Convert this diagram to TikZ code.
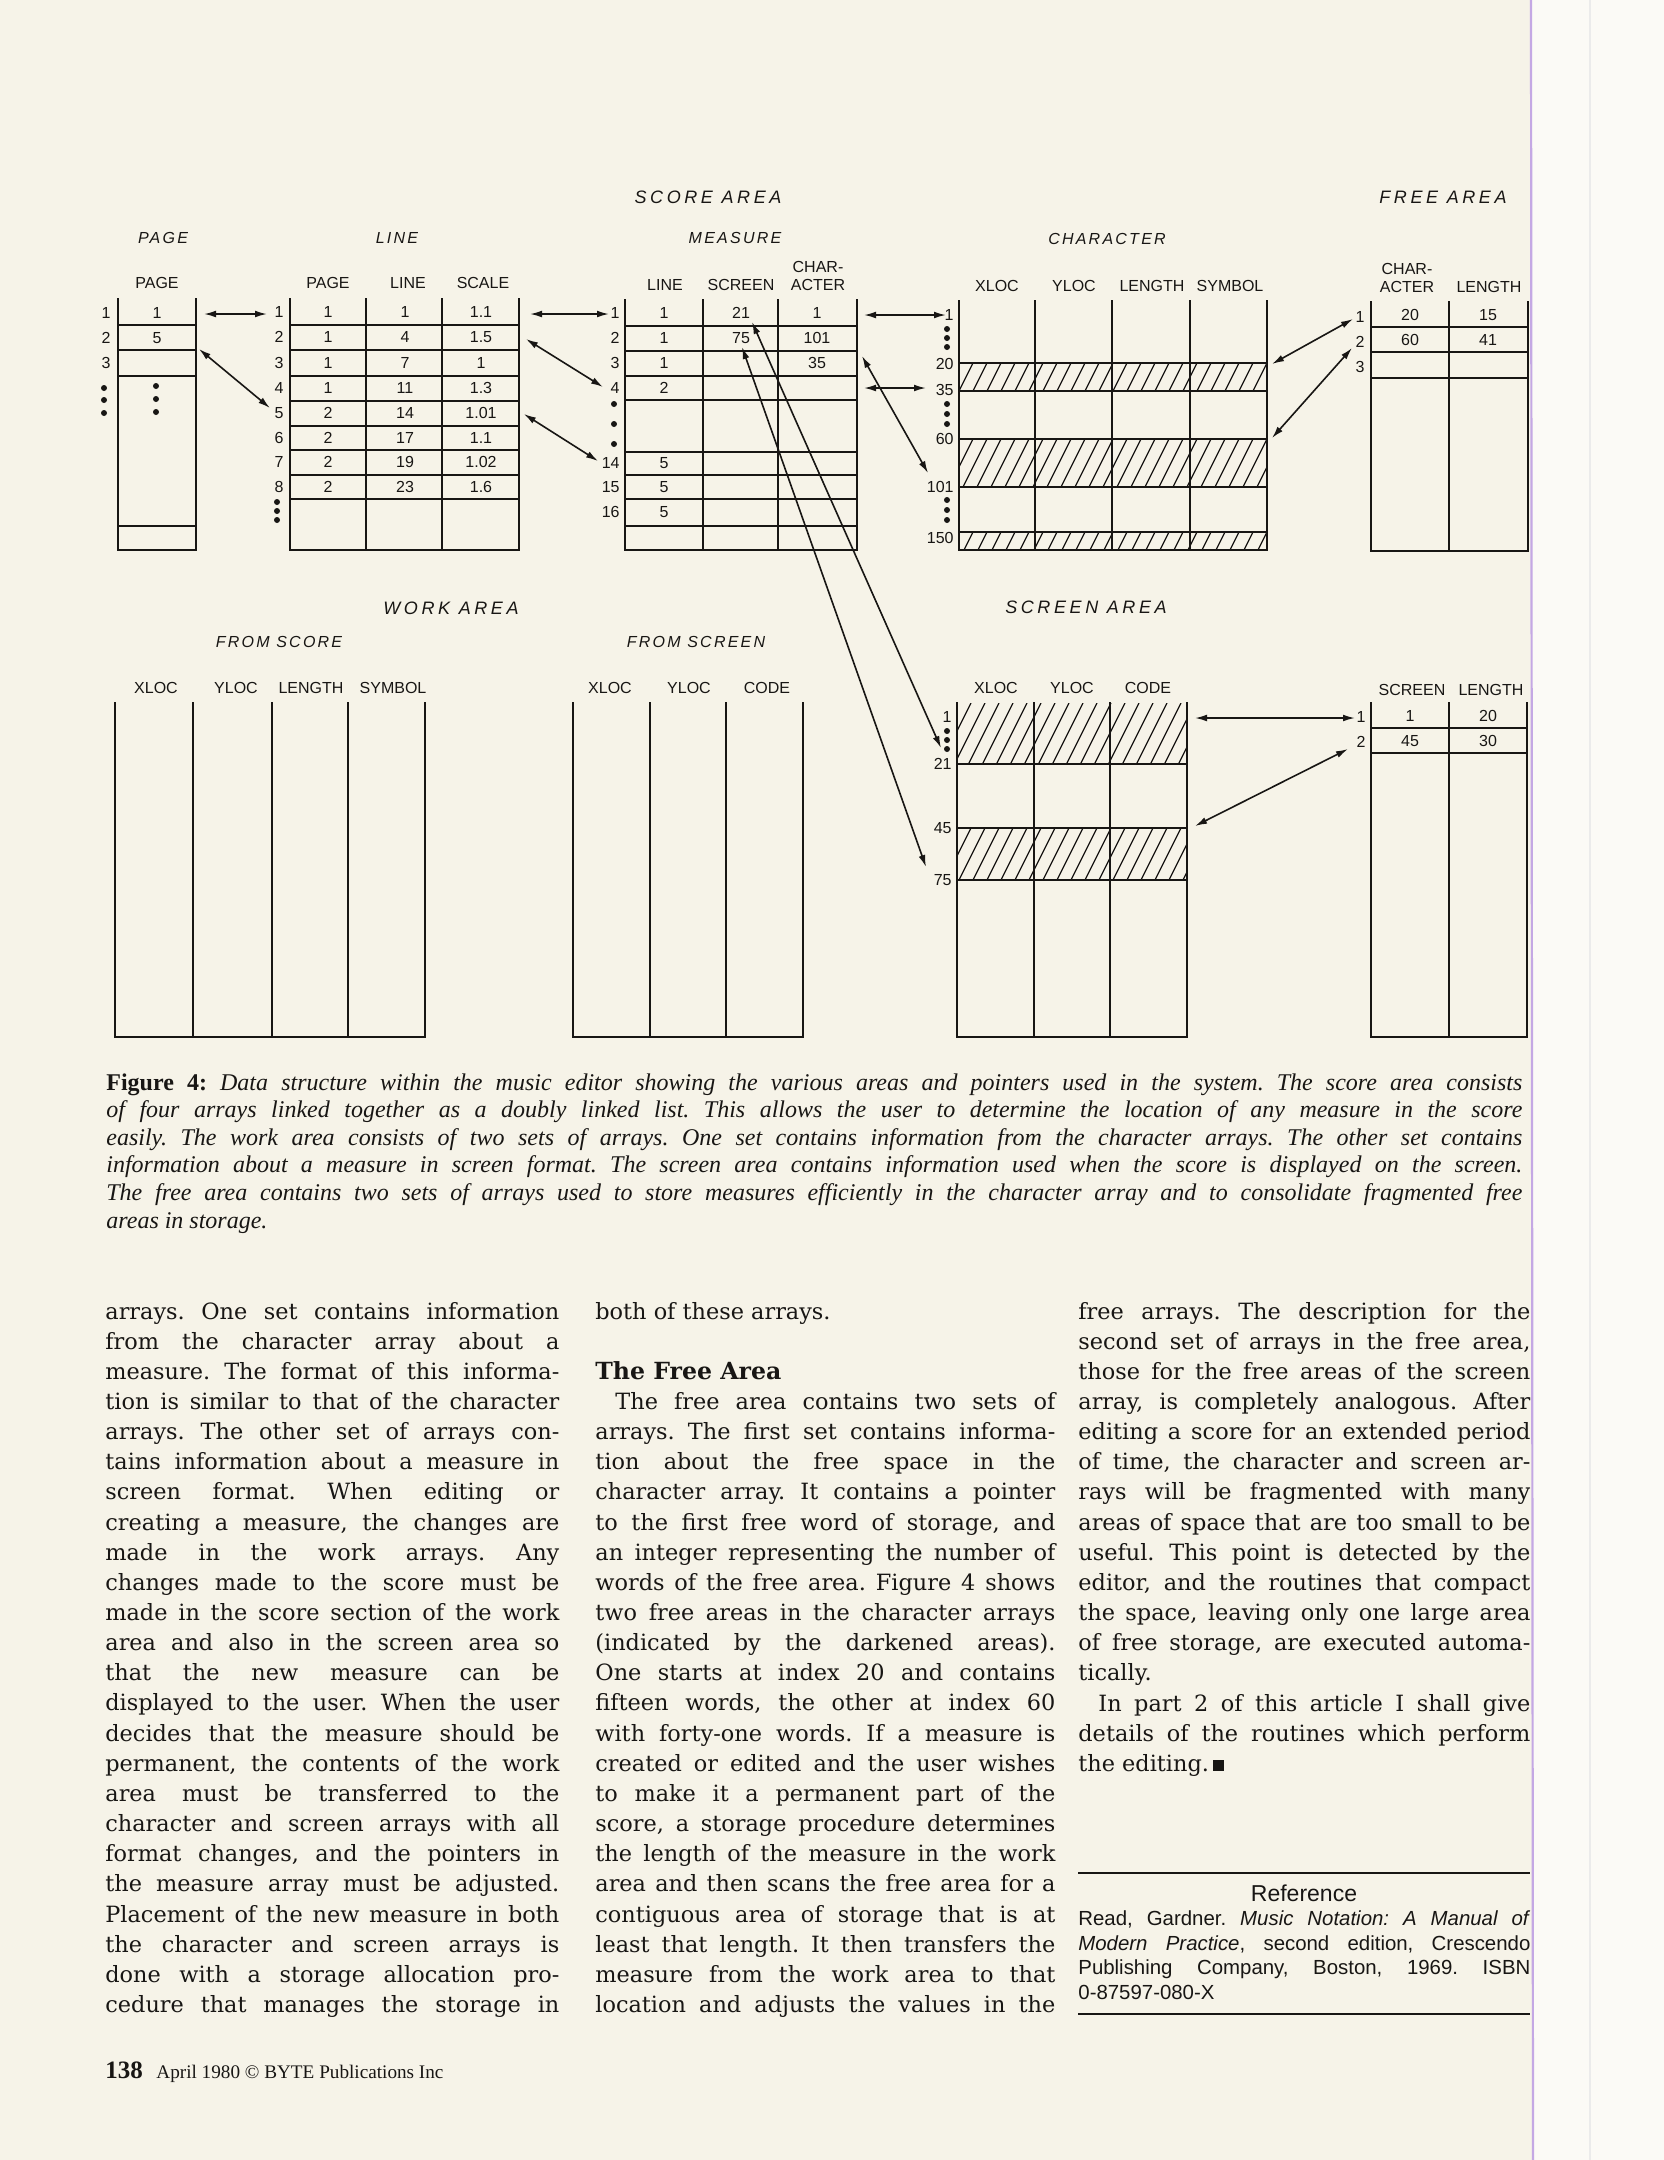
\documentclass[tikz,border=0pt]{standalone}
\usepackage{fontspec}
\usepackage{graphicx}
\usetikzlibrary{arrows.meta}
\setmainfont{DejaVu Serif}
\newfontfamily\dg{Liberation Sans}
\newfontfamily\dga[LetterSpace=20]{Liberation Sans}
\newfontfamily\dgb[LetterSpace=14]{Liberation Sans}
\newfontfamily\capf{Liberation Serif}
\definecolor{paper}{RGB}{246,243,232}
\definecolor{paperb}{RGB}{251,250,246}
\definecolor{ink}{RGB}{24,22,20}
\definecolor{purp}{RGB}{196,168,228}
\AtBeginDocument{\frenchspacing}
\newsavebox\jbox
\newcommand\jl[2]{\sbox\jbox{#2}\ifdim\wd\jbox>#1\relax\resizebox{#1}{\height}{\usebox\jbox}\else\makebox[#1][s]{#2}\fi}
\newcommand\myhatch[4]{%
  \begin{scope}
    \clip (#1,#2) rectangle (#3,#4);
    \pgfmathsetmacro\hh{#4-#2}%
    \pgfmathtruncatemacro\nn{(#3-#1+0.5*\hh)/14+1}%
    \foreach \k in {0,...,\nn}
      \draw[myhl] ({#1-0.5*\hh+\k*14},#4) -- ++({0.5*\hh},{-\hh});
  \end{scope}}
\begin{document}
\begin{tikzpicture}[x=0.5pt,y=-0.5pt,
  mytb/.style={draw=ink,line width=1.15pt,line cap=rect},
  myhl/.style={draw=ink,line width=0.6pt},
  myar/.style={draw=ink,line width=0.8pt,{Latex[length=6pt,width=3.4pt]}-{Latex[length=6pt,width=3.4pt]}},
  myhd/.style={font={\dg\fontsize{8pt}{9.5pt}\selectfont},inner sep=0pt,text=ink},
  mylb/.style={myhd,anchor=east},
  myt1/.style={font={\dga\itshape\fontsize{9pt}{11pt}\selectfont},inner sep=0pt,text=ink},
  myt2/.style={font={\dgb\itshape\fontsize{8pt}{10pt}\selectfont},inner sep=0pt,text=ink},
  mybody/.style={font={\fontsize{11.2pt}{15pt}\selectfont},inner sep=0pt,anchor=base west,text=ink},
  mycap/.style={font={\capf\itshape\fontsize{12pt}{14pt}\selectfont},inner sep=0pt,anchor=base west,text=ink},
  myref/.style={font={\dg\fontsize{10.2pt}{12pt}\selectfont},inner sep=0pt,anchor=base west,text=ink},
  mydot/.style={fill=ink}]
\path[use as bounding box] (0,0) rectangle (1664,2160);
\fill[paper] (0,0) rectangle (1664,2160);
\fill[paperb] (1532,0) rectangle (1664,2160);
\draw[black!8,line width=0.6pt] (1590,0) -- (1590,2160);

% ---------------- titles
\node[myt1,name=tScore] at (708,197) {SCORE AREA};
\node[myt1,name=tFree] at (1443,197) {FREE AREA};
\node[myt2,name=tPage] at (163,238) {PAGE};
\node[myt2,name=tLine] at (397,238) {LINE};
\node[myt2,name=tMeas] at (735,238) {MEASURE};
\node[myt2,name=tChar] at (1107,239) {CHARACTER};
\node[myt1,name=tWork] at (451,608) {WORK AREA};
\node[myt2,name=tFSc] at (279,642) {FROM SCORE};
\node[myt2,name=tFScr] at (696,642) {FROM SCREEN};
\node[myt1,name=tScr] at (1086,607) {SCREEN AREA};

% ---------------- column headers
\foreach \x/\y/\t [count=\i] in {157/283/PAGE, 328/283/PAGE, 408/283/LINE, 483/283/SCALE,
  665/285/LINE, 741/285/SCREEN, 818/267/CHAR-, 818/285/ACTER,
  997/286/XLOC, 1074/286/YLOC, 1152/286/LENGTH, 1230/286/SYMBOL,
  1407/269/CHAR-, 1407/287/ACTER, 1489/287/LENGTH,
  156/688/XLOC, 236/688/YLOC, 311/688/LENGTH, 393/688/SYMBOL,
  610/688/XLOC, 689/688/YLOC, 767/688/CODE,
  996/688/XLOC, 1072/688/YLOC, 1148/688/CODE,
  1412/690/SCREEN, 1491/690/LENGTH}
  \node[myhd,name=h\i] at (\x,\y) {\t};

% ---------------- hatching
\myhatch{959}{363}{1267}{391}
\myhatch{959}{439}{1267}{487}
\myhatch{959}{532}{1267}{550}
\myhatch{957}{703}{1187}{764}
\myhatch{957}{828}{1187}{880}

% ---------------- tables
% PAGE
\foreach \x in {118,196} \draw[mytb] (\x,299) -- (\x,550);
\foreach \y in {325,350,376,526,550} \draw[mytb] (118,\y) -- (196,\y);
% LINE
\foreach \x in {290,366,442,519} \draw[mytb] (\x,299) -- (\x,550);
\foreach \y in {325,350,376,401,426,450,475,499,550} \draw[mytb] (290,\y) -- (519,\y);
% MEASURE
\foreach \x in {625,703,778,857} \draw[mytb] (\x,300) -- (\x,550);
\foreach \y in {326,351,376,400,452,475,499,526,550} \draw[mytb] (625,\y) -- (857,\y);
% CHARACTER
\foreach \x in {959,1035,1112,1190,1267} \draw[mytb] (\x,301) -- (\x,550);
\foreach \y in {363,391,439,487,532,550} \draw[mytb] (959,\y) -- (1267,\y);
% FREE
\foreach \x in {1371,1449,1528} \draw[mytb] (\x,302) -- (\x,551);
\foreach \y in {327,352,378,551} \draw[mytb] (1371,\y) -- (1528,\y);
% WORK: FROM SCORE
\foreach \x in {115,193,272,348,425} \draw[mytb] (\x,703) -- (\x,1037);
\draw[mytb] (115,1037) -- (425,1037);
% WORK: FROM SCREEN
\foreach \x in {573,650,726,803} \draw[mytb] (\x,703) -- (\x,1037);
\draw[mytb] (573,1037) -- (803,1037);
% SCREEN AREA
\foreach \x in {957,1034,1110,1187} \draw[mytb] (\x,703) -- (\x,1037);
\foreach \y in {764,828,880,1037} \draw[mytb] (957,\y) -- (1187,\y);
% SCREEN FREE
\foreach \x in {1371,1449,1527} \draw[mytb] (\x,703) -- (\x,1037);
\foreach \y in {728,753,1037} \draw[mytb] (1371,\y) -- (1527,\y);

% ---------------- cell values
\node[myhd,name=pv1] at (157,313) {1};
\node[myhd,name=pv2] at (157,338) {5};
\foreach \y/\a/\b/\c [count=\i] in {312/1/1/1.1, 337/1/4/1.5, 363/1/7/1, 388/1/11/1.3,
   413/2/14/1.01, 438/2/17/1.1, 462/2/19/1.02, 487/2/23/1.6}
  {\node[myhd,name=lp\i] at (328,\y) {\a};
   \node[myhd,name=ll\i] at (405,\y) {\b};
   \node[myhd,name=ls\i] at (481,\y) {\c};}
\node[myhd,name=ml1] at (664,313) {1};
\node[myhd,name=ml2] at (664,338) {1};
\node[myhd,name=ml3] at (664,363) {1};
\node[myhd,name=ml4] at (664,388) {2};
\node[myhd,name=ml14] at (664,463) {5};
\node[myhd,name=ml15] at (664,487) {5};
\node[myhd,name=ml16] at (664,512) {5};
\node[myhd,name=ms1] at (741,313) {21};
\node[myhd,name=ms2] at (741,338) {75};
\node[myhd,name=mc1] at (817,313) {1};
\node[myhd,name=mc2] at (817,338) {101};
\node[myhd,name=mc3] at (817,363) {35};
\node[myhd,name=fc1] at (1410,315) {20};
\node[myhd,name=fl1] at (1488,315) {15};
\node[myhd,name=fc2] at (1410,340) {60};
\node[myhd,name=fl2] at (1488,340) {41};
\node[myhd,name=sc1] at (1410,716) {1};
\node[myhd,name=sl1] at (1488,716) {20};
\node[myhd,name=sc2] at (1410,741) {45};
\node[myhd,name=sl2] at (1488,741) {30};

% ---------------- row labels and dots
\foreach \y/\t [count=\i] in {313/1, 338/2, 363/3} \node[mylb,name=pr\i] at (111,\y) {\t};
\foreach \y in {388,400,413} \fill[mydot] (104,\y) circle[radius=1.5pt];
\foreach \y in {386,399,412} \fill[mydot] (156,\y) circle[radius=1.5pt];
\foreach \y/\t [count=\i] in {312/1, 337/2, 363/3, 388/4, 413/5, 438/6, 462/7, 487/8} \node[mylb,name=lr\i] at (284,\y) {\t};
\foreach \y in {502,511,520} \fill[mydot] (277,\y) circle[radius=1.5pt];
\foreach \y/\t [count=\i] in {313/1, 338/2, 363/3, 388/4, 463/14, 487/15, 512/16} \node[mylb,name=mr\i] at (620,\y) {\t};
\foreach \y in {404,424,444} \fill[mydot] (614,\y) circle[radius=1.5pt];
\foreach \y/\t [count=\i] in {315/1, 364/20, 390/35, 439/60, 487/101, 538/150} \node[mylb,name=cr\i] at (954,\y) {\t};
\foreach \y in {329,338,347, 404,414,424, 500,510,520} \fill[mydot] (947,\y) circle[radius=1.5pt];
\foreach \y/\t [count=\i] in {317/1, 342/2, 367/3} \node[mylb,name=fr\i] at (1365,\y) {\t};
\foreach \y/\t [count=\i] in {717/1, 764/21, 828/45, 880/75} \node[mylb,name=sr\i] at (952,\y) {\t};
\foreach \y in {731,740,749} \fill[mydot] (947,\y) circle[radius=1.5pt];
\foreach \y/\t [count=\i] in {717/1, 742/2} \node[mylb,name=qr\i] at (1366,\y) {\t};

% ---------------- pointers
\coordinate (s1) at (204,314);   \coordinate (e1) at (267,314);
\coordinate (s2) at (199,349);   \coordinate (e2) at (270,408);
\coordinate (s3) at (530,314);   \coordinate (e3) at (609,314);
\coordinate (s4) at (526,339);   \coordinate (e4) at (603,387);
\coordinate (s5) at (524,414);   \coordinate (e5) at (598,461);
\coordinate (s6) at (864,315);   \coordinate (e6) at (946,315);
\coordinate (s7) at (864,388);   \coordinate (e7) at (926,388);
\coordinate (s8) at (862,356);   \coordinate (e8) at (928,473);
\coordinate (s9) at (752,322);   \coordinate (e9) at (941,748);
\coordinate (s10) at (742,347);  \coordinate (e10) at (926,867);
\coordinate (s11) at (1272,364); \coordinate (e11) at (1353,319);
\coordinate (s12) at (1272,438); \coordinate (e12) at (1352,348);
\coordinate (s13) at (1195,718); \coordinate (e13) at (1355,718);
\coordinate (s14) at (1195,826); \coordinate (e14) at (1348,749);
\foreach \k in {1,...,14} \draw[myar] (s\k) -- (e\k);

% ---------------- caption
\node[mycap,name=cap1] at (106,1090) {\jl{708pt}{{\upshape\bfseries Figure 4:} Data structure within the music editor showing the various areas and pointers used in the system. The score area consists}};
\foreach \t [count=\i from 2] in {
 {of four arrays linked together as a doubly linked list. This allows the user to determine the location of any measure in the score},
 {easily. The work area consists of two sets of arrays. One set contains information from the character arrays. The other set contains},
 {information about a measure in screen format. The screen area contains information used when the score is displayed on the screen.},
 {The free area contains two sets of arrays used to store measures efficiently in the character array and to consolidate fragmented free}}
  \node[mycap,name=cap\i] at (106,{1090+27.6*(\i-1)}) {\jl{708pt}{\t}};
\node[mycap,name=cap6] at (106,1228) {areas in storage.};

% ---------------- column 1
\foreach \t [count=\i] in {
 {arrays. One set contains information},
 {from the character array about a},
 {measure. The format of this informa-},
 {tion is similar to that of the character},
 {arrays. The other set of arrays con-},
 {tains information about a measure in},
 {screen format. When editing or},
 {creating a measure, the changes are},
 {made in the work arrays. Any},
 {changes made to the score must be},
 {made in the score section of the work},
 {area and also in the screen area so},
 {that the new measure can be},
 {displayed to the user. When the user},
 {decides that the measure should be},
 {permanent, the contents of the work},
 {area must be transferred to the},
 {character and screen arrays with all},
 {format changes, and the pointers in},
 {the measure array must be adjusted.},
 {Placement of the new measure in both},
 {the character and screen arrays is},
 {done with a storage allocation pro-},
 {cedure that manages the storage in}}
  \node[mybody,name=ca\i] at (105,{1319+30.15*(\i-1)}) {\jl{227pt}{\t}};

% ---------------- column 2
\node[mybody,name=cb1] at (595,1319) {both of these arrays.};
\node[mybody,font={\bfseries\fontsize{11.8pt}{15pt}\selectfont},name=cb3] at (595,1379.3) {The Free Area};
\node[mybody,name=cb4] at (615,1409.5) {\jl{220pt}{The free area contains two sets of}};
\foreach \t [count=\i from 5] in {
 {arrays. The first set contains informa-},
 {tion about the free space in the},
 {character array. It contains a pointer},
 {to the first free word of storage, and},
 {an integer representing the number of},
 {words of the free area. Figure 4 shows},
 {two free areas in the character arrays},
 {(indicated by the darkened areas).},
 {One starts at index 20 and contains},
 {fifteen words, the other at index 60},
 {with forty-one words. If a measure is},
 {created or edited and the user wishes},
 {to make it a permanent part of the},
 {score, a storage procedure determines},
 {the length of the measure in the work},
 {area and then scans the free area for a},
 {contiguous area of storage that is at},
 {least that length. It then transfers the},
 {measure from the work area to that},
 {location and adjusts the values in the}}
  \node[mybody,name=cb\i] at (595,{1319+30.15*(\i-1)}) {\jl{230pt}{\t}};

% ---------------- column 3
\foreach \t [count=\i] in {
 {free arrays. The description for the},
 {second set of arrays in the free area,},
 {those for the free areas of the screen},
 {array, is completely analogous. After},
 {editing a score for an extended period},
 {of time, the character and screen ar-},
 {rays will be fragmented with many},
 {areas of space that are too small to be},
 {useful. This point is detected by the},
 {editor, and the routines that compact},
 {the space, leaving only one large area},
 {of free storage, are executed automa-}}
  \node[mybody,name=cc\i] at (1078,{1319+30.15*(\i-1)}) {\jl{226pt}{\t}};
\node[mybody,name=cc13] at (1078,1680.8) {tically.};
\node[mybody,name=cc14] at (1098,1711) {\jl{216pt}{In part 2 of this article I shall give}};
\node[mybody,name=cc15] at (1078,1741.1) {\jl{226pt}{details of the routines which perform}};
\node[mybody,name=cc16] at (1078,1771.3) {the editing.\,\rule{0.5em}{0.5em}};

% ---------------- reference
\draw[ink,line width=0.7pt] (1078,1873) -- (1530,1873);
\node[font={\dg\fontsize{11.5pt}{13pt}\selectfont},anchor=base,inner sep=0pt,text=ink,name=refh] at (1304,1901) {Reference};
\node[myref,name=r1] at (1078,1925) {\jl{226pt}{Read, Gardner. \textit{Music Notation: A Manual of}}};
\node[myref,name=r2] at (1078,1950) {\jl{226pt}{\textit{Modern Practice}, second edition, Crescendo}};
\node[myref,name=r3] at (1078,1974) {\jl{226pt}{Publishing Company, Boston, 1969. ISBN}};
\node[myref,name=r4] at (1078,1999) {0-87597-080-X};
\draw[ink,line width=0.7pt] (1078,2014) -- (1530,2014);

% ---------------- footer
\node[font={\capf\bfseries\fontsize{12.5pt}{14pt}\selectfont},anchor=base west,inner sep=0pt,text=ink,name=pgno] at (105,2078) {138};
\node[font={\capf\fontsize{9.6pt}{12pt}\selectfont},anchor=base west,inner sep=0pt,text=ink,name=foot] at (156,2078) {April 1980 © BYTE Publications Inc};

% ---------------- page edge
\draw[purp,line width=1.1pt] (1531,0) -- (1533,2160);
\end{tikzpicture}
\end{document}
